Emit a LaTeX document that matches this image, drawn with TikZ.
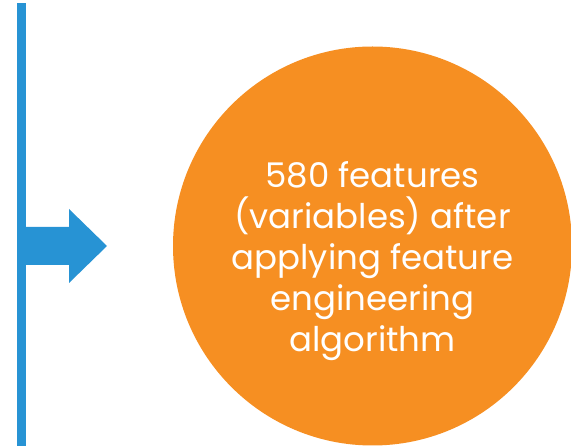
\documentclass[tikz,border=0pt]{standalone}
\usepackage{fontspec}
\setmainfont{Poppins}
\definecolor{barblue}{RGB}{39,147,212}
\definecolor{circorange}{RGB}{246,143,34}
\tikzset{
  blueshape/.style={fill=barblue, draw=none},
  bigcircle/.style={circle, fill=circorange, draw=none, minimum size=399pt, inner sep=0pt},
  circtext/.style={text=white, align=center, font=\fontsize{34}{41}\selectfont, inner sep=0pt}
}
\begin{document}
\begin{tikzpicture}[x=1pt,y=-1pt]
\useasboundingbox (0,0) rectangle (571,446);
% vertical bar
\fill[blueshape] (17,3) rectangle (26,446);
% arrow
\coordinate (arrowstart) at (26,246);
\fill[blueshape] (26,227) -- (69,227) -- (69,209) -- (107,246) -- (69,283) -- (69,265) -- (26,265) -- cycle;
% circle
\node[bigcircle] (circ) at (372.5,246) {};
\node[circtext] (label) at (372.5,261) {580 features\\(variables) after\\applying feature\\engineering\\algorithm};
\end{tikzpicture}
\end{document}
